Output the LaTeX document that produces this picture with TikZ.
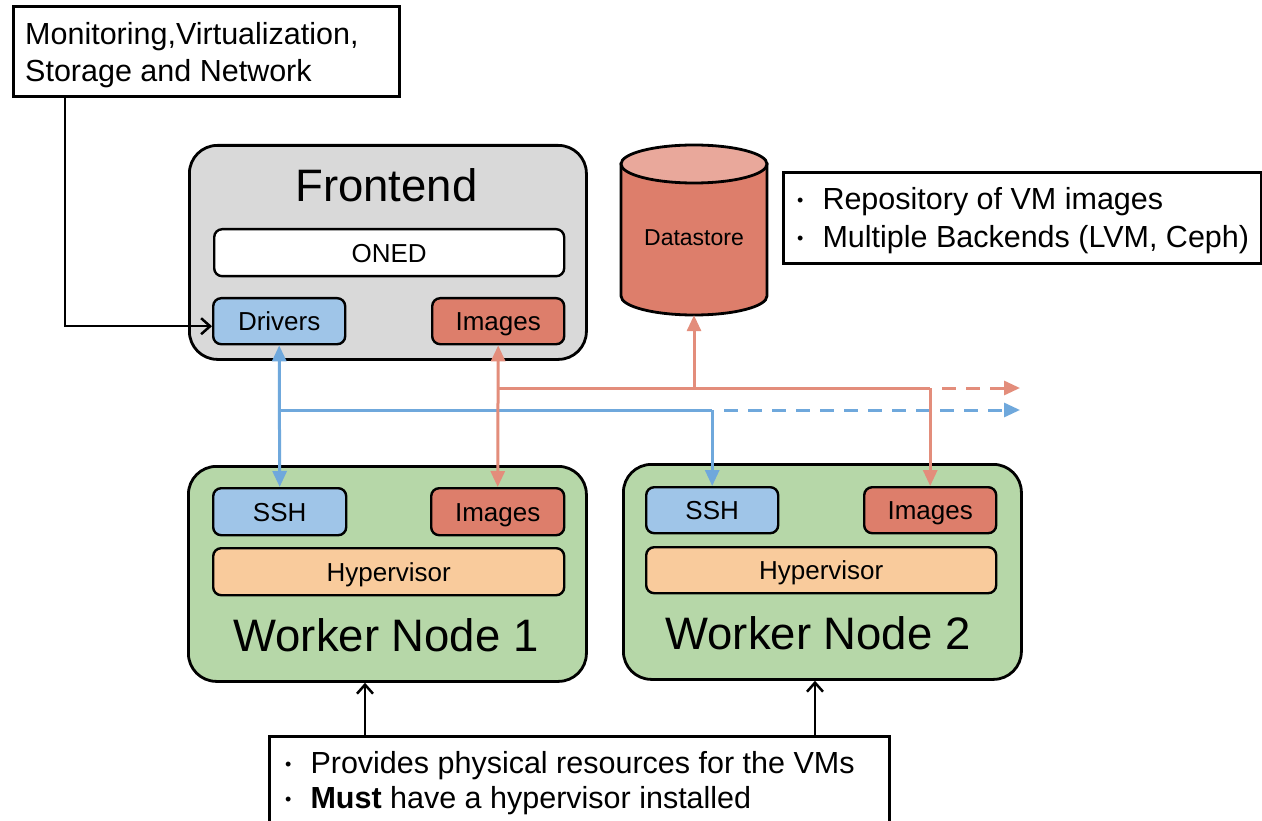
\documentclass[tikz,border=0pt]{standalone}
\usepackage{fontspec}
\setmainfont{Liberation Sans}
\usetikzlibrary{arrows.meta}
\definecolor{fgray}{HTML}{D9D9D9}
\definecolor{fblue}{HTML}{9FC5E8}
\definecolor{fred}{HTML}{DD7E6B}
\definecolor{fredtop}{HTML}{E9A89B}
\definecolor{fgreen}{HTML}{B6D7A8}
\definecolor{forange}{HTML}{F9CB9C}
\definecolor{lblue}{HTML}{6FA8DC}
\definecolor{lred}{HTML}{E38D7B}
\newcommand{\bul}{\raisebox{3pt}{\fontsize{18}{20}\selectfont•}\hspace{19pt}}
\tikzset{
  bigbox/.style={draw=black, line width=2.8pt, rounded corners=28pt, inner sep=0pt},
  smallbox/.style={draw=black, line width=2.4pt, rounded corners=8pt, inner sep=0pt,
     font=\fontsize{26}{30}\selectfont, text height=19pt, text depth=0pt},
  titletext/.style={font=\fontsize{45.5}{52}\selectfont, anchor=base, inner sep=0pt},
  callout/.style={draw=black, line width=3pt, fill=white, inner sep=0pt},
  callouttext/.style={font=\fontsize{30.5}{37}\selectfont, align=left, anchor=base west, inner sep=0pt},
  bluearrow/.style={draw=lblue, line width=3pt},
  redarrow/.style={draw=lred, line width=3pt},
  ftip/.tip={Triangle[length=16pt, width=14pt]},
  openarrow/.style={draw=black, line width=2.5pt, -{Straight Barb[length=9pt, width=16pt, line width=2.5pt]}},
  dashpat/.style={dash pattern=on 14pt off 10pt}
}
\begin{document}
\begin{tikzpicture}[x=1pt,y=-1pt]
\useasboundingbox[fill=white] (0,0) rectangle (1262,821);

% top-left callout
\node[callout, minimum width=386pt, minimum height=90pt, anchor=north west] (tl) at (12,5) {};
\node[callouttext] (tlt) at (25,82) {Monitoring,Virtualization,\\Storage and Network};

% Frontend
\node[bigbox, fill=fgray, minimum width=397pt, minimum height=214pt, anchor=north west] (fe) at (188,144) {};
\node[titletext] (fet) at (386.5,202) {Frontend};
\node[smallbox, fill=white, minimum width=350pt, minimum height=47pt, anchor=north west] (oned) at (213,228) {ONED};
\node[smallbox, fill=fblue, minimum width=132pt, minimum height=46pt, anchor=north west] (drv) at (212,297) {Drivers};
\node[smallbox, fill=fred, minimum width=132pt, minimum height=46pt, anchor=north west] (fimg) at (431,297) {Images};

% Datastore cylinder
\node[minimum width=146pt, minimum height=170pt, inner sep=0pt] (ds) at (694,230) {};
\path[draw=black, line width=2.8pt, fill=fred] (621,164) -- (621,296)
   arc[start angle=180, end angle=360, x radius=73pt, y radius=19pt] -- (767,164) -- cycle;
\path[draw=black, line width=2.8pt, fill=fredtop] (694,164) ellipse [x radius=73pt, y radius=19pt];
\node[font=\fontsize{23}{26}\selectfont, inner sep=0pt] (dst) at (694,238) {Datastore};

% Datastore callout
\node[callout, minimum width=478pt, minimum height=91pt, anchor=north west] (dsc) at (782,171) {};
\node[callouttext] (dsct) at (797,248) {\bul Repository of VM images\\[1pt]\bul Multiple Backends (LVM, Ceph)};

% Worker 1
\node[bigbox, fill=fgreen, minimum width=398pt, minimum height=215pt, anchor=north west] (w1) at (187,465) {};
\node[smallbox, fill=fblue, minimum width=133pt, minimum height=47pt, anchor=north west] (ssh1) at (212,487) {SSH};
\node[smallbox, fill=fred, minimum width=133pt, minimum height=47pt, anchor=north west] (img1) at (430,487) {Images};
\node[smallbox, fill=forange, minimum width=351pt, minimum height=47pt, anchor=north west] (hyp1) at (212,547) {Hypervisor};
\node[titletext] (w1t) at (386,651) {Worker Node 1};

% Worker 2
\node[bigbox, fill=fgreen, minimum width=398pt, minimum height=215pt, anchor=north west] (w2) at (622,463) {};
\node[smallbox, fill=fblue, minimum width=132pt, minimum height=46pt, anchor=north west] (ssh2) at (645,486) {SSH};
\node[smallbox, fill=fred, minimum width=132pt, minimum height=46pt, anchor=north west] (img2) at (863,486) {Images};
\node[smallbox, fill=forange, minimum width=350pt, minimum height=46pt, anchor=north west] (hyp2) at (645,546) {Hypervisor};
\node[titletext] (w2t) at (818,649) {Worker Node 2};

% bottom callout
\node[callout, minimum width=620pt, minimum height=110pt, anchor=north west] (bot) at (268,735) {};
\node[callouttext] (bott) at (285,808) {\bul Provides physical resources for the VMs\\[-2pt]\bul\textbf{Must} have a hypervisor installed};

% connectors: black
\draw[openarrow] ([xshift=53pt]tl.south west) |- ([yshift=-5pt]drv.west);
\draw[openarrow] ([xshift=97pt]bot.north west) -- ([xshift=97pt]bot.north west |- w1.south);
\draw[openarrow] ([xshift=547pt]bot.north west) -- ([xshift=547pt]bot.north west |- w2.south);

% blue network
\coordinate (bl) at (drv.south |- 0,410);
\coordinate (bend) at (1020,410);
\draw[bluearrow, {ftip}-{ftip}] (drv.south) -- (ssh1.north);
\draw[bluearrow] (bl) -- (ssh2.north |- bl);
\draw[bluearrow, -{ftip}] (ssh2.north |- bl) -- (ssh2.north);
\draw[bluearrow, dashpat, -{ftip}] ([xshift=12pt]ssh2.north |- bl) -- (bend);

% red network
\coordinate (rl) at (fimg.south |- 0,388);
\coordinate (rend) at (1020,388);
\draw[redarrow, {ftip}-{ftip}] (fimg.south) -- (img1.north);
\draw[redarrow] (rl) -- (img2.north |- rl);
\draw[redarrow, -{ftip}] (ds.south |- rl) -- (ds.south);
\draw[redarrow, -{ftip}] (img2.north |- rl) -- (img2.north);
\draw[redarrow, dashpat, -{ftip}] ([xshift=12pt]img2.north |- rl) -- (rend);
\end{tikzpicture}
\end{document}
